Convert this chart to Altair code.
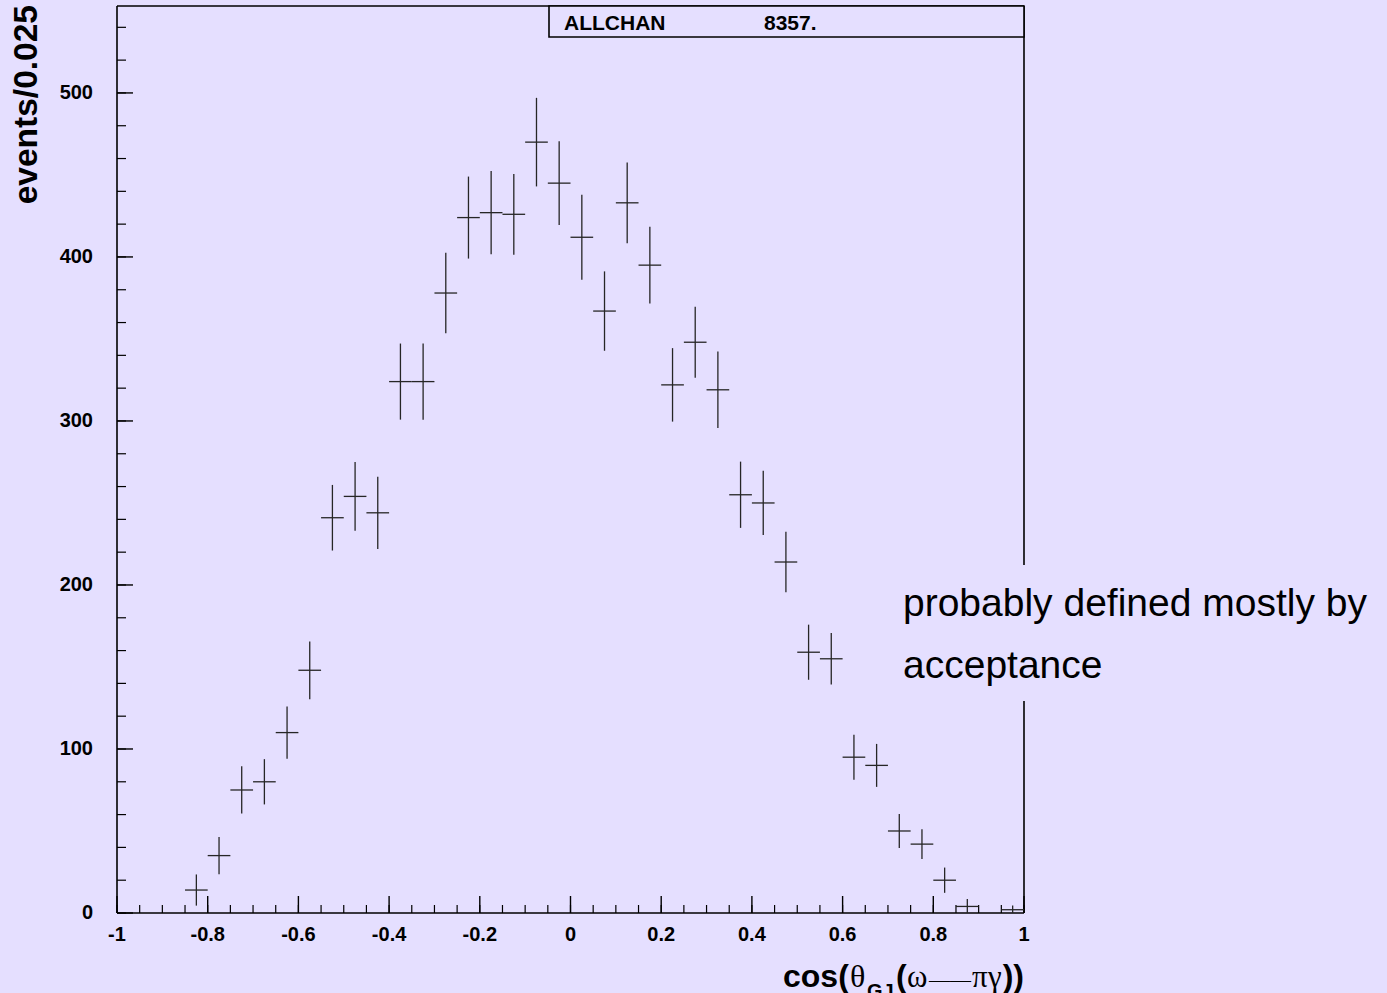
import altair as alt
import pandas as pd

# ---- histogram content: cos(theta_GJ) of omega -> pi gamma, 40 bins on [-1, 1]
bin_centers = [
    -0.975, -0.925, -0.875, -0.825, -0.775, -0.725, -0.675, -0.625, -0.575, -0.525,
    -0.475, -0.425, -0.375, -0.325, -0.275, -0.225, -0.175, -0.125, -0.075, -0.025,
    0.025, 0.075, 0.125, 0.175, 0.225, 0.275, 0.325, 0.375, 0.425, 0.475,
    0.525, 0.575, 0.625, 0.675, 0.725, 0.775, 0.825, 0.875, 0.925, 0.975,
]
counts = [
    0, 0, 0, 14, 35, 75, 80, 110, 148, 241,
    254, 244, 324, 324, 378, 424, 427, 426, 470, 445,
    412, 367, 433, 395, 322, 348, 319, 255, 250, 214,
    159, 155, 95, 90, 50, 42, 20, 4, 0, 2,
]
errors = [
    0, 0, 0, 9.5, 11.4, 14.4, 13.8, 15.9, 17.6, 20.0,
    21.0, 22.0, 23.2, 23.2, 24.6, 25.0, 25.4, 24.6, 27.0, 25.6,
    25.9, 24.2, 24.6, 23.4, 22.4, 21.6, 23.3, 20.2, 19.6, 18.5,
    16.8, 15.7, 13.7, 13.1, 10.4, 9.1, 7.7, 4.5, 0, 2.6,
]
bin_half_width = 0.025

# ---- axis ticks and labels
x_major = [-1.0, -0.8, -0.6, -0.4, -0.2, 0.0, 0.2, 0.4, 0.6, 0.8, 1.0]
x_labels = ["-1", "-0.8", "-0.6", "-0.4", "-0.2", "0", "0.2", "0.4", "0.6", "0.8", "1"]
x_minor = [round(-1 + 0.05 * i, 2) for i in range(41)]
y_major = [0, 100, 200, 300, 400, 500]
y_labels = ["0", "100", "200", "300", "400", "500"]
y_minor = list(range(0, 560, 20))

# ---- texts
stat_name = "ALLCHAN"
stat_entries = "8357."
y_title = "events/0.025"
note_lines = ["probably defined mostly by", "acceptance"]

BG = "#E5DFFF"
INK = "#262626"
SANS = "Liberation Sans"
SERIF = "Liberation Serif"
W = H = 907
YMAX = 553

xs = alt.Scale(domain=[-1, 1], nice=False, zero=False)
ys = alt.Scale(domain=[0, YMAX], nice=False, zero=True)

hist = pd.DataFrame({"c": bin_centers, "n": counts, "e": errors})
hist["lo"] = hist["c"] - bin_half_width
hist["hi"] = hist["c"] + bin_half_width
hist["ylo"] = (hist["n"] - hist["e"]).clip(lower=0)
hist["yhi"] = hist["n"] + hist["e"]
hist = hist[hist["n"] > 0]

vbars = alt.Chart(hist).mark_rule(color=INK, strokeWidth=1.3).encode(
    x=alt.X("c:Q", scale=xs, axis=None),
    y=alt.Y("ylo:Q", scale=ys, axis=None),
    y2="yhi:Q",
)
hbars = alt.Chart(hist).mark_rule(color=INK, strokeWidth=1.3).encode(
    x=alt.X("lo:Q", scale=xs, axis=None),
    x2="hi:Q",
    y=alt.Y("n:Q", scale=ys, axis=None),
)


def one(**fields):
    return alt.Data(values=[fields])


def frame_rule(**enc):
    return alt.Chart(one(k=1)).mark_rule(color="black", strokeWidth=1.6).encode(**enc)


# inward ticks
xt_minor = alt.Chart(pd.DataFrame({"v": x_minor})).mark_rule(color="black", strokeWidth=1.2).encode(
    x=alt.X("v:Q", scale=xs, axis=None), y=alt.value(H), y2=alt.value(H - 8)
)
xt_major = alt.Chart(pd.DataFrame({"v": x_major})).mark_rule(color="black", strokeWidth=1.4).encode(
    x=alt.X("v:Q", scale=xs, axis=None), y=alt.value(H), y2=alt.value(H - 17)
)
yt_minor = alt.Chart(pd.DataFrame({"v": y_minor})).mark_rule(color="black", strokeWidth=1.2).encode(
    y=alt.Y("v:Q", scale=ys, axis=None), x=alt.value(0), x2=alt.value(9)
)
yt_major = alt.Chart(pd.DataFrame({"v": y_major})).mark_rule(color="black", strokeWidth=1.4).encode(
    y=alt.Y("v:Q", scale=ys, axis=None), x=alt.value(0), x2=alt.value(16)
)

xlab = alt.Chart(pd.DataFrame({"v": x_major, "t": x_labels})).mark_text(
    font=SANS, fontWeight="bold", fontSize=20, align="center", baseline="alphabetic", color="black"
).encode(x=alt.X("v:Q", scale=xs, axis=None), y=alt.value(935), text="t:N")
ylab = alt.Chart(pd.DataFrame({"v": y_major, "t": y_labels})).mark_text(
    font=SANS, fontWeight="bold", fontSize=20, align="right", baseline="middle", color="black"
).encode(y=alt.Y("v:Q", scale=ys, axis=None), x=alt.value(-24), text="t:N")


def label(text, x, y, size, weight="bold", font=SANS, align="left", baseline="alphabetic", angle=0):
    return alt.Chart(one(t=text)).mark_text(
        font=font, fontSize=size, fontWeight=weight, align=align, baseline=baseline,
        angle=angle, color="black",
    ).encode(x=alt.value(x), y=alt.value(y), text="t:N")


ytitle = label(y_title, -90, -1, 33.5, align="right", baseline="middle", angle=270)

# x title: cos(theta_GJ(omega -- pi gamma)) assembled from pieces
xtitle = [
    label("cos(", 666, 981, 32),
    label("θ", 733, 981, 32, weight="normal", font=SERIF),
    label("GJ", 750, 992, 20),
    label("(", 779, 981, 32),
    label("ω", 790, 981, 31, weight="normal", font=SERIF),
    label("——", 812, 981, 21, weight="normal", font=SERIF),
    label("π", 855, 981, 31, weight="normal", font=SERIF),
    label("γ", 871, 981, 31, weight="normal", font=SERIF),
    label("))", W, 981, 32, align="right"),
]

stat_box = alt.Chart(one(k=1)).mark_rect(fill=BG, stroke="black", strokeWidth=1.6).encode(
    x=alt.value(432), x2=alt.value(W), y=alt.value(0), y2=alt.value(31)
)
stat_texts = [label(stat_name, 447, 24, 21), label(stat_entries, 647, 24, 21)]

note_bg = alt.Chart(one(k=1)).mark_rect(fill=BG).encode(
    x=alt.value(776), x2=alt.value(1270), y=alt.value(559), y2=alt.value(695)
)
note = [
    label(note_lines[0], 786, 610, 39, weight="normal"),
    label(note_lines[1], 786, 672, 39, weight="normal"),
]

frame = [
    frame_rule(x=alt.value(0), y=alt.value(0), y2=alt.value(H)),
    frame_rule(x=alt.value(W), y=alt.value(0), y2=alt.value(H)),
    frame_rule(y=alt.value(0), x=alt.value(0), x2=alt.value(W)),
    frame_rule(y=alt.value(H), x=alt.value(0), x2=alt.value(W)),
]

chart = alt.layer(
    *frame, xt_minor, xt_major, yt_minor, yt_major, vbars, hbars,
    xlab, ylab, ytitle, *xtitle, stat_box, *stat_texts, note_bg, *note,
).properties(
    width=W,
    height=H,
    autosize=alt.AutoSizeParams(type="none"),
    padding={"left": 117, "top": 6, "right": 363, "bottom": 80},
    background=BG,
).configure_view(stroke="transparent")

chart.save("out.html", embed_options={"renderer": "svg", "actions": False})
